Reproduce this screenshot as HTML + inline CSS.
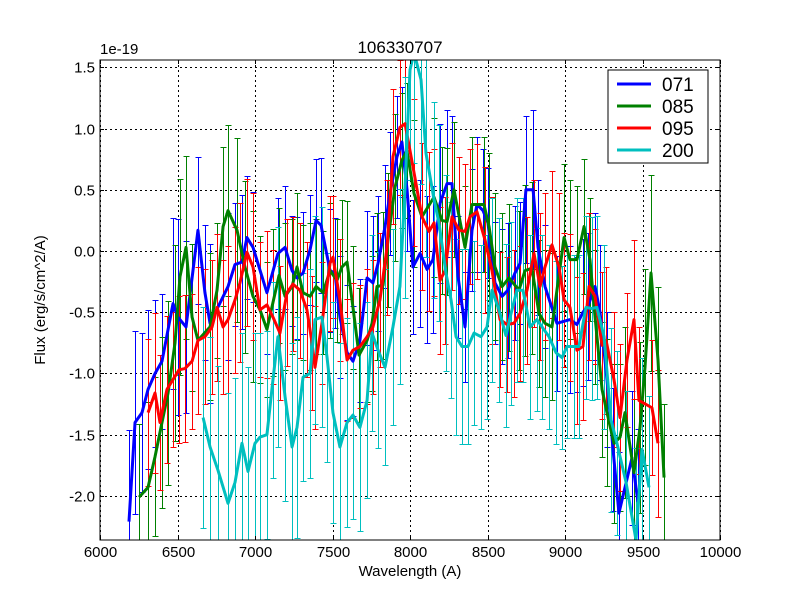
<!DOCTYPE html>
<html><head><meta charset="utf-8"><style>
html,body{margin:0;padding:0;background:#fff;width:800px;height:600px;overflow:hidden;}
svg{display:block;font-family:"Liberation Sans","DejaVu Sans",sans-serif;}
</style></head><body>
<svg id="chart" width="800" height="600" viewBox="0 0 800 600">
<rect x="0" y="0" width="800" height="600" fill="#fff"/>
<defs><clipPath id="clip"><rect x="100" y="60" width="620" height="480"/></clipPath></defs>
<g id="grid"></g>
<g id="plot" clip-path="url(#clip)"></g>
<rect x="100" y="60" width="620" height="480" fill="none" stroke="#000" stroke-width="1"/>
<g id="ticks"></g>
<text x="400" y="53" font-size="17" text-anchor="middle">106330707</text>
<text x="100" y="54" font-size="15">1e-19</text>
<text x="410" y="576" font-size="15" text-anchor="middle">Wavelength (A)</text>
<text x="45" y="300" font-size="15" text-anchor="middle" transform="rotate(-90 45 300)">Flux (erg/s/cm^2/A)</text>
<g id="legend">
<rect x="608" y="70" width="100" height="93" fill="#fff" stroke="#000" stroke-width="1"/>
</g>
</svg>
<script>
const xTicks = [6000,6500,7000,7500,8000,8500,9000,9500,10000];
const yTicks = [-2.0,-1.5,-1.0,-0.5,0.0,0.5,1.0,1.5];
const seriesNames = ["071","085","095","200"];
const seriesColors = ["#0000ff","#008000","#ff0000","#00bfbf"];
// [wavelength, flux(1e-19), error]
const s071 = [[6187,-2.21,0.75],[6226,-1.40,0.75],[6271,-1.32,0.65],[6310,-1.13,0.65],[6355,-1.0,0.6],[6400,-0.9,0.55],[6471,-0.43,0.7],[6503,-0.54,0.8],[6555,-0.62,0.7],[6632,0.17,0.6],[6677,-0.34,0.55],[6710,-0.59,0.65],[6826,-0.29,0.6],[6871,-0.11,0.5],[6916,-0.09,0.55],[6948,0.11,0.5],[6987,0.03,0.45],[7077,-0.34,0.5],[7148,-0.02,0.45],[7194,0.03,0.5],[7239,-0.16,0.45],[7271,-0.22,0.5],[7310,-0.18,0.5],[7355,0.01,0.45],[7394,0.25,0.5],[7426,0.21,0.55],[7484,-0.16,0.5],[7516,-0.18,0.45],[7548,-0.54,0.5],[7594,-0.83,0.55],[7632,-0.9,0.45],[7677,-0.73,0.5],[7723,-0.22,0.55],[7761,-0.26,0.55],[7794,-0.1,0.55],[7839,0.2,0.5],[7871,0.47,0.5],[7916,0.77,0.5],[7948,0.89,0.45],[7981,0.5,0.5],[8019,-0.13,0.55],[8065,-0.02,0.6],[8110,-0.15,0.6],[8148,-0.07,0.6],[8194,0.39,0.65],[8239,0.55,0.6],[8271,0.55,0.55],[8310,-0.21,0.5],[8355,-0.62,0.45],[8400,0.17,0.5],[8432,0.38,0.55],[8471,0.33,0.5],[8503,0.23,0.45],[8548,-0.26,0.5],[8594,-0.37,0.55],[8632,-0.32,0.55],[8677,-0.18,0.55],[8710,-0.1,0.5],[8748,0.5,0.6],[8794,0.5,0.65],[8826,0.03,0.55],[8871,-0.29,0.5],[8948,-0.59,0.55],[9032,-0.56,0.6],[9077,-0.6,0.55],[9116,-0.5,0.6],[9148,-0.45,0.6],[9194,-0.29,0.6],[9226,-0.5,0.55],[9271,-1.05,0.55],[9310,-1.62,0.5],[9348,-2.14,0.5],[9432,-1.69,0.55],[9471,-2.05,0.6]];
const s085 = [[6252,-2.01,0.6],[6310,-1.93,0.7],[6355,-1.68,0.65],[6400,-1.4,0.7],[6439,-1.16,0.75],[6484,-0.75,0.8],[6516,-0.21,0.8],[6555,0.03,0.75],[6594,-0.54,0.6],[6632,-0.73,0.6],[6710,-0.62,0.6],[6755,-0.32,0.55],[6794,0.2,0.65],[6826,0.33,0.7],[6884,0.17,0.75],[6935,-0.13,0.7],[6987,-0.37,0.7],[7032,-0.48,0.6],[7077,-0.64,0.55],[7116,-0.42,0.6],[7155,-0.2,0.55],[7194,-0.37,0.6],[7239,-0.29,0.55],[7271,-0.13,0.6],[7310,-0.34,0.55],[7355,-0.37,0.6],[7394,-0.29,0.55],[7439,-0.34,0.5],[7484,-0.16,0.55],[7529,-0.24,0.5],[7561,-0.13,0.55],[7594,-0.09,0.5],[7632,-0.46,0.5],[7671,-0.85,0.55],[7723,-0.73,0.5],[7755,-0.59,0.55],[7787,-0.29,0.6],[7826,-0.28,0.6],[7858,0.09,0.55],[7903,0.52,0.6],[7948,0.74,0.55],[7980,0.82,0.55],[8026,0.47,0.6],[8077,0.28,0.6],[8155,0.44,0.65],[8206,0.25,0.6],[8239,0.24,0.6],[8284,0.5,0.55],[8355,0.03,0.5],[8400,0.38,0.55],[8477,0.38,0.55],[8510,0.2,0.6],[8548,-0.13,0.6],[8594,-0.29,0.6],[8639,-0.22,0.6],[8703,-0.32,0.65],[8742,-0.16,0.7],[8787,-0.14,0.7],[8832,-0.51,0.6],[8871,-0.59,0.6],[8916,-0.62,0.6],[8994,0.11,0.6],[9032,-0.07,0.65],[9077,-0.07,0.6],[9123,0.2,0.55],[9161,-0.07,0.5],[9194,-0.54,0.55],[9239,-1.13,0.55],[9271,-1.32,0.6],[9316,-1.57,0.65],[9355,-1.52,0.6],[9387,-1.32,0.7],[9445,-1.81,0.6],[9484,-1.44,0.7],[9516,-0.95,0.8],[9555,-0.18,0.8],[9600,-0.89,0.6],[9639,-1.85,0.6]];
const s095 = [[6310,-1.32,0.6],[6355,-1.16,0.65],[6387,-1.4,0.55],[6432,-1.13,0.6],[6471,-1.05,0.55],[6510,-0.97,0.6],[6548,-0.96,0.6],[6594,-0.9,0.55],[6632,-0.73,0.6],[6677,-0.7,0.55],[6723,-0.62,0.55],[6755,-0.46,0.6],[6794,-0.62,0.55],[6826,-0.56,0.6],[6871,-0.4,0.6],[6903,-0.26,0.65],[6948,-0.01,0.6],[6987,-0.13,0.6],[7032,-0.48,0.55],[7077,-0.44,0.6],[7116,-0.54,0.55],[7161,-0.67,0.55],[7206,-0.34,0.6],[7245,-0.27,0.55],[7290,-0.32,0.55],[7335,-0.48,0.55],[7368,-0.75,0.55],[7387,-0.95,0.5],[7432,-0.59,0.5],[7484,-0.1,0.55],[7503,-0.05,0.5],[7548,-0.4,0.5],[7594,-0.89,0.5],[7632,-0.81,0.55],[7677,-0.78,0.5],[7723,-0.7,0.55],[7761,-0.62,0.55],[7806,-0.4,0.55],[7852,0.03,0.55],[7890,0.77,0.55],[7935,1.01,0.55],[7968,1.04,0.6],[8026,0.64,0.6],[8077,0.28,0.6],[8123,0.16,0.65],[8155,0.23,0.6],[8194,-0.24,0.6],[8226,-0.16,0.6],[8271,0.28,0.6],[8316,0.17,0.6],[8355,0.16,0.55],[8387,0.28,0.55],[8432,0.32,0.55],[8484,0.09,0.6],[8529,-0.16,0.6],[8581,-0.56,0.55],[8626,-0.6,0.55],[8671,-0.59,0.6],[8710,-0.51,0.55],[8755,-0.32,0.6],[8800,-0.02,0.6],[8839,-0.29,0.6],[8871,-0.13,0.6],[8916,0.05,0.6],[8961,-0.13,0.6],[8994,-0.4,0.55],[9032,-0.46,0.6],[9077,-0.81,0.6],[9116,-0.78,0.6],[9155,-0.29,0.6],[9194,-0.37,0.55],[9239,-0.77,0.6],[9265,-0.73,0.6],[9316,-1.05,0.55],[9355,-1.36,0.6],[9400,-0.89,0.55],[9445,-0.56,0.65],[9477,-1.22,0.6],[9561,-1.28,0.55],[9600,-1.57,0.6]];
const s200 = [[6665,-1.36,0.9],[6710,-1.6,0.9],[6761,-1.79,0.85],[6826,-2.06,0.9],[6871,-1.89,0.85],[6916,-1.57,0.9],[6955,-1.8,0.85],[7000,-1.57,0.9],[7032,-1.52,0.85],[7077,-1.5,0.85],[7116,-1.05,0.8],[7148,-0.7,0.9],[7194,-1.19,0.85],[7239,-1.6,0.85],[7271,-1.44,0.9],[7310,-1.03,0.85],[7355,-1.0,0.85],[7387,-0.56,0.85],[7432,-0.54,0.9],[7465,-0.87,0.85],[7503,-1.32,0.9],[7548,-1.6,0.85],[7594,-1.4,0.85],[7632,-1.34,0.85],[7677,-1.44,0.85],[7723,-1.22,0.8],[7755,-0.67,0.8],[7794,-0.81,0.8],[7839,-0.95,0.8],[7890,-0.62,0.8],[7935,-0.29,0.8],[7968,0.52,0.9],[8000,1.48,0.9],[8026,1.62,0.9],[8071,1.4,0.85],[8103,0.8,0.85],[8155,0.42,0.8],[8187,0.23,0.8],[8232,-0.18,0.8],[8265,-0.4,0.8],[8297,-0.7,0.8],[8335,-0.78,0.8],[8374,-0.78,0.8],[8413,-0.67,0.75],[8458,-0.7,0.75],[8497,-0.62,0.75],[8529,-0.32,0.75],[8574,-0.48,0.75],[8619,-0.69,0.75],[8652,-0.51,0.75],[8690,-0.32,0.75],[8729,-0.32,0.75],[8774,-0.62,0.75],[8819,-0.56,0.75],[8852,-0.62,0.75],[8897,-0.7,0.75],[8942,-0.83,0.75],[8981,-0.87,0.75],[9013,-0.78,0.75],[9058,-0.78,0.75],[9090,-0.78,0.75],[9135,-0.46,0.75],[9174,-0.47,0.75],[9206,-0.46,0.75],[9252,-0.7,0.75],[9297,-1.38,0.75],[9335,-1.57,0.75],[9394,-1.89,0.75],[9458,-2.36,0.75],[9497,-1.62,0.75],[9542,-1.93,0.75]];
const allSeries = [s071,s085,s095,s200];

const NS = "http://www.w3.org/2000/svg";
const X0=100,X1=720,Y0=60,Y1=540, xmin=6000,xmax=10000, ymin=-2.36, ymax=1.56;
function xs(w){return X0+(w-xmin)/(xmax-xmin)*(X1-X0);}
function ys(v){return Y1-(v-ymin)/(ymax-ymin)*(Y1-Y0);}
function mk(tag,attrs,parent){const e=document.createElementNS(NS,tag);for(const k in attrs)e.setAttribute(k,attrs[k]);parent.appendChild(e);return e;}
const grid=document.getElementById('grid'),plot=document.getElementById('plot'),ticks=document.getElementById('ticks'),legend=document.getElementById('legend');

xTicks.forEach(t=>{
  const x=Math.round(xs(t))+0.5;
  const g=mk('line',{x1:x,x2:x,y1:Y0,y2:Y1,stroke:'#000','stroke-width':1,'stroke-dasharray':'2,3'},grid);
  
  
  const tk=mk('line',{x1:x,x2:x,y1:Y1,y2:Y1-4,stroke:'#000'},ticks);
  
  
  const tk2=mk('line',{x1:x,x2:x,y1:Y0,y2:Y0+4,stroke:'#000'},ticks);
  
  
  const lb=mk('text',{x:x,y:Y1+17,'font-size':15,'text-anchor':'middle'},ticks);
  lb.textContent=t;
  
  
});
yTicks.forEach(t=>{
  const y=Math.round(ys(t))+0.5;
  const g=mk('line',{x1:X0,x2:X1,y1:y,y2:y,stroke:'#000','stroke-width':1,'stroke-dasharray':'2,3'},grid);
  
  
  const tk=mk('line',{x1:X0,x2:X0+4,y1:y,y2:y,stroke:'#000'},ticks);
  
  
  const tk2=mk('line',{x1:X1,x2:X1-4,y1:y,y2:y,stroke:'#000'},ticks);
  
  
  const lb=mk('text',{x:X0-5,y:y+5,'font-size':15,'text-anchor':'end'},ticks);
  lb.textContent=t.toFixed(1);
  
  
});

allSeries.forEach((s,si)=>{
  const col=seriesColors[si];
  const eg=mk('g',{stroke:col,'stroke-width':1,'shape-rendering':'crispEdges'},plot);
  
  
  s.forEach(p=>{
    const x=Math.round(xs(p[0]))+0.5,yt=Math.round(ys(p[1]+p[2]))+0.5,yb=Math.round(ys(p[1]-p[2]))+0.5;
    mk('line',{x1:x,x2:x,y1:yt,y2:yb},eg);
    mk('line',{x1:x-3,x2:x+3,y1:yt,y2:yt},eg);
    mk('line',{x1:x-3,x2:x+3,y1:yb,y2:yb},eg);
  });
});
allSeries.forEach((s,si)=>{
  const pl=mk('polyline',{points:s.map(p=>xs(p[0])+','+ys(p[1])).join(' '),fill:'none',stroke:seriesColors[si],'stroke-width':3,'stroke-linejoin':'round'},plot);
  
  
});

seriesNames.forEach((n,i)=>{
  const y=84+i*22;
  const ln=mk('line',{x1:617,x2:651,y1:y,y2:y,stroke:seriesColors[i],'stroke-width':3},legend);
  
  
  const tx=mk('text',{x:662,y:y+7,'font-size':19},legend);
  tx.textContent=n;
  
  
});
</script>
</body></html>
